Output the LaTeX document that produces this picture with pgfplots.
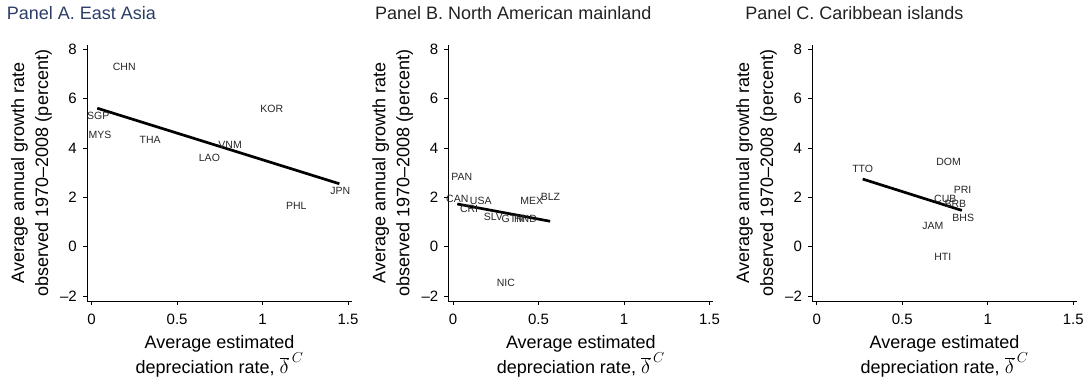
\documentclass[border=0pt]{standalone}
\usepackage{fontspec}
\setmainfont{Liberation Sans}
\usepackage{pgfplots}
\pgfplotsset{compat=1.18}
\definecolor{titleblue}{HTML}{2B3D68}
\definecolor{titlegray}{HTML}{222222}
\pgfplotsset{
  panel/.style={
    scale only axis, width=265pt, height=256pt,
    xmin=-0.027, xmax=1.523, ymin=-2.2, ymax=8.17,
    axis lines=left, axis line style={-, line width=0.9pt},
    tick align=outside, major tick length=4pt,
    tick style={line width=0.9pt, black},
    xtick={0,0.5,1,1.5}, xticklabels={0,0.5,1,1.5},
    ytick={-2,0,2,4,6,8}, yticklabels={\textendash2,0,2,4,6,8},
    tick label style={font=\fontsize{15}{18}\selectfont},
    yticklabel style={anchor=east, inner sep=0pt, xshift=-6pt},
    xticklabel style={anchor=north, inner sep=0pt, yshift=-9pt},
    xlabel={Average estimated\\depreciation rate, {\fontsize{22}{24}\selectfont$\overline{\delta}^{\,C}$}},
    ylabel={Average annual growth rate\\observed 1970\textendash2008 (percent)},
    xlabel style={at={(axis description cs:0.5,0)}, anchor=north, inner sep=0pt, yshift=-34pt,
      align=center, font=\fontsize{18}{21}\selectfont},
    ylabel style={at={(axis description cs:0,0.5)}, anchor=south, inner sep=0pt, yshift=35pt,
      align=center, font=\fontsize{18}{24}\selectfont},
    title style={anchor=base west, inner sep=0pt, font=\fontsize{18}{20}\selectfont},
    clip=false,
  },
  countries/.style={draw=none, mark=none, nodes near coords, point meta=explicit symbolic,
    every node near coord/.append style={anchor=center, inner sep=0pt, font=\fontsize{10.5}{12}\selectfont, text=black!85}},
  fit/.style={black, line width=2.7pt, mark=none},
}
\begin{document}
\begin{tikzpicture}
\useasboundingbox (0,-378pt) rectangle (1087pt,0);
% Panel A
\begin{axis}[panel, at={(87pt,-301pt)}, anchor=south west,
  title={\color{titleblue}Panel A. East Asia},
  title style={at={(axis description cs:-0.303,1.078)}}]
\addplot[countries] table[meta=lab] {
x y lab
0.191 7.27 CHN
0.039 5.31 SGP
0.049 4.53 MYS
0.342 4.31 THA
1.054 5.57 KOR
0.810 4.11 VNM
0.689 3.58 LAO
1.455 2.27 JPN
1.197 1.66 PHL
};
\addplot[fit] coordinates {(0.033,5.61) (1.449,2.55)};
\end{axis}
% Panel B
\begin{axis}[panel, at={(448.4pt,-301pt)}, anchor=south west,
  title={\color{titlegray}Panel B. North American mainland},
  title style={at={(axis description cs:-0.277,1.078)}}]
\addplot[countries] table[meta=lab] {
x y lab
0.051 2.84 PAN
0.025 1.92 CAN
0.162 1.86 USA
0.094 1.53 CRI
0.236 1.21 SLV
0.353 1.11 GTM
0.424 1.11 HND
0.461 1.86 MEX
0.570 2.02 BLZ
0.309 -1.46 NIC
};
\addplot[fit] coordinates {(0.025,1.73) (0.568,1.03)};
\end{axis}
% Panel C
\begin{axis}[panel, at={(812.1pt,-301pt)}, anchor=south west,
  title={\color{titlegray}Panel C. Caribbean islands},
  title style={at={(axis description cs:-0.253,1.078)}}]
\addplot[countries] table[meta=lab] {
x y lab
0.269 3.15 TTO
0.771 3.44 DOM
0.853 2.30 PRI
0.752 1.93 CUB
0.811 1.73 BRB
0.857 1.17 BHS
0.680 0.84 JAM
0.737 -0.41 HTI
};
\addplot[fit] coordinates {(0.269,2.74) (0.849,1.47)};
\end{axis}
\end{tikzpicture}
\end{document}
